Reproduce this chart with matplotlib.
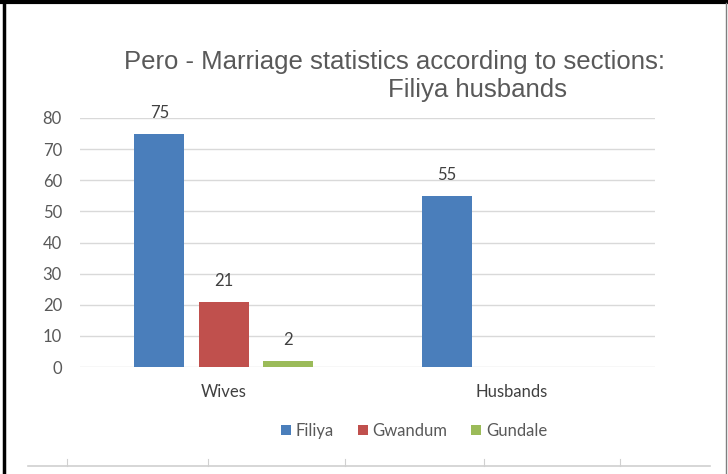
import matplotlib.pyplot as plt
import numpy as np
from matplotlib.lines import Line2D

# Marriage counts by section
categories = ["Wives", "Husbands"]
sections = ["Filiya", "Gwandum", "Gundale"]
filiya = [75, 55]
gwandum = [21, 0]
gundale = [2, 0]
colors = ["#4A7EBB", "#C0504D", "#9BBB59"]
yticks = [0, 10, 20, 30, 40, 50, 60, 70, 80]

W, H = 728, 474
FONT = "Lato"
fig = plt.figure(figsize=(W / 100, H / 100), dpi=100)
ax = fig.add_axes([80 / W, 1 - 367 / H, 575 / W, 249 / H])

x = np.arange(len(categories))
width = 0.174
step = 0.224
for i, (name, vals, c) in enumerate(zip(sections, [filiya, gwandum, gundale], colors)):
    pos = x + (i - 1) * step
    bars = ax.bar(pos, vals, width, color=c, label=name, zorder=3)
    for b, v in zip(bars, vals):
        if v:
            ax.annotate(str(v), (b.get_x() + b.get_width() / 2, v),
                        xytext=(0, 21), textcoords="offset pixels",
                        ha="center", va="center", fontsize=12,
                        color="#404040", family=FONT,
                        annotation_clip=False)

ax.set_xlim(-0.5, 1.5)
ax.set_ylim(0, 80)
ax.set_yticks(yticks)
ax.set_xticks(x)
ax.set_xticklabels(categories)
ax.grid(axis="y", color="#D9D9D9", linewidth=1, zorder=0)
ax.set_axisbelow(True)
for s in ax.spines.values():
    s.set_visible(False)
ax.tick_params(axis="y", length=0, pad=13, labelsize=12, labelcolor="#595959")
ax.tick_params(axis="x", length=0, pad=12, labelsize=12, labelcolor="#404040")
for lab in ax.get_xticklabels() + ax.get_yticklabels():
    lab.set_family(FONT)

# Two-line chart title
fig.text(394 / W, 1 - 62 / H, "Pero - Marriage statistics according to sections:",
         ha="center", va="center", fontsize=18.5, color="#595959",
         family="Liberation Sans")
fig.text(478 / W, 1 - 90 / H, "Filiya husbands",
         ha="center", va="center", fontsize=18.5, color="#595959",
         family="Liberation Sans")

leg = fig.legend(loc="center", bbox_to_anchor=(414 / W, 1 - 431 / H), ncol=3,
                 frameon=False, handlelength=0.6, handleheight=0.6,
                 handletextpad=0.3, columnspacing=1.4,
                 prop={"family": FONT, "size": 12})
for t in leg.get_texts():
    t.set_color("#595959")

# Frame lines around the chart area
fig.add_artist(Line2D([0, 1], [1 - 2 / H, 1 - 2 / H], color="black", linewidth=3))
fig.add_artist(Line2D([4 / W, 4 / W], [0, 1], color="black", linewidth=2.5))
fig.add_artist(Line2D([726 / W, 726 / W], [0, 1 - 3 / H], color="#7F7F7F", linewidth=1))
fig.add_artist(Line2D([28 / W, 710 / W], [1 - 466 / H, 1 - 466 / H], color="#D0D0D0", linewidth=1.2))
for tx in [67, 208, 345, 484, 620]:
    fig.add_artist(Line2D([tx / W, tx / W], [1 - 466 / H, 1 - 459 / H], color="#D0D0D0", linewidth=0.8))

fig.savefig("out.png", dpi=100)
